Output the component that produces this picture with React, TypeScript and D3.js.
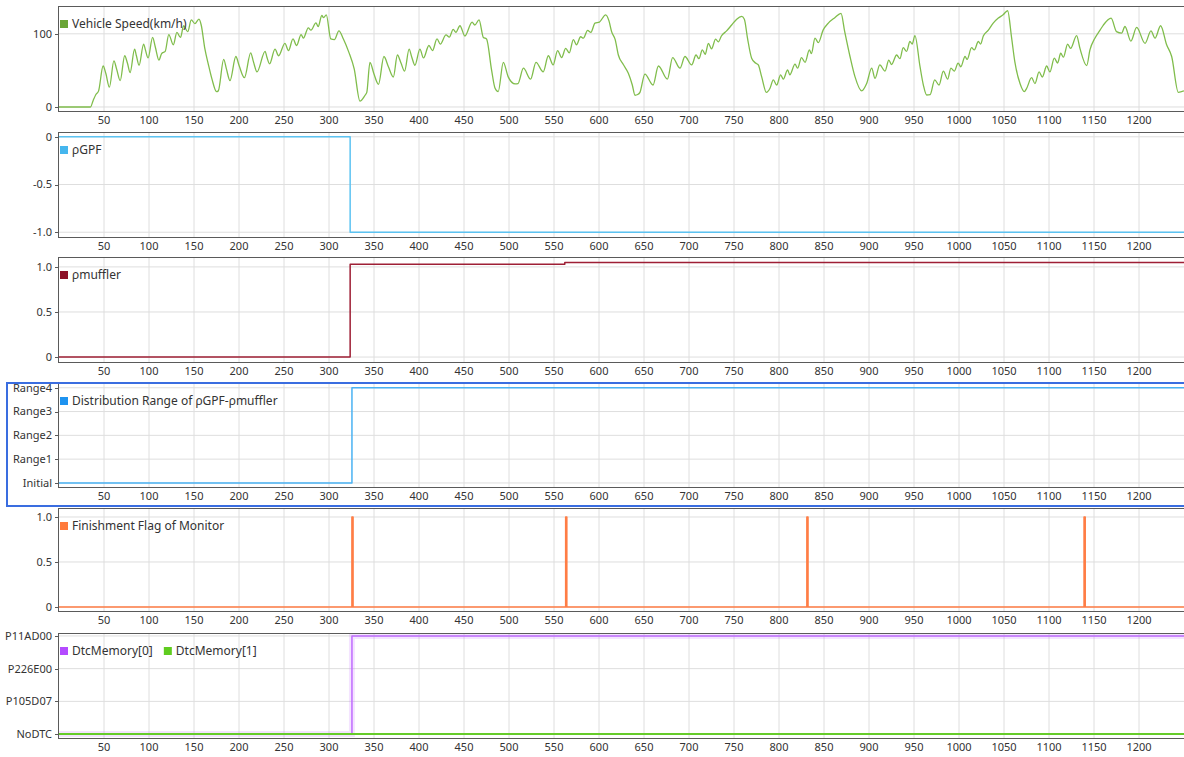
import { useEffect, useRef } from "react";
import * as d3 from "d3";

type Pt = [number, number];

// x axis (seconds)
const xTickValues = [50, 100, 150, 200, 250, 300, 350, 400, 450, 500, 550, 600, 650, 700, 750, 800, 850, 900, 950, 1000, 1050, 1100, 1150, 1200];

// y tick values / labels per panel
const speedTicks = [0, 100];
const gpfTicks = [0, -0.5, -1.0];
const mufflerTicks = [0, 0.5, 1.0];
const flagTicks = [0, 0.5, 1.0];
const rangeLabels = ["Initial", "Range1", "Range2", "Range3", "Range4"];
const dtcLabels = ["NoDTC", "P105D07", "P226E00", "P11AD00"];

// Vehicle speed (km/h)
const vehicleSpeed: Pt[] = [
    [0, 0], [35, 0], [38, 9], [41, 17], [44, 22], [49, 56], [52, 46], [56, 27], [61, 63], [64, 52], [68, 36],
    [73, 70], [76, 60], [79, 47], [84, 79], [86, 70], [89, 57], [94, 86], [96, 78], [99, 67], [104, 95],
    [107, 82], [111, 64], [114, 73], [118, 76], [122, 99], [127, 85], [131, 102], [135, 95], [138.5, 111],
    [143, 103], [147, 119], [151, 114], [155.5, 120], [158, 112], [162, 80], [166, 58], [170, 38], [175, 21],
    [177, 22], [183, 65], [186, 52], [190, 36], [196.5, 69], [200, 57], [206, 40], [213, 74], [216, 62],
    [220, 48], [229, 76], [231, 68], [234, 59], [240, 79], [244, 70], [251, 87], [255, 77], [260, 93],
    [264, 84], [269, 99], [271.5, 94], [277, 108], [280, 105], [285.5, 115], [288, 110], [292, 125],
    [294, 122], [297, 126], [302, 93], [306, 92], [311, 104], [316, 93], [322, 75], [328, 52], [334.4, 8],
    [340, 16], [342, 20], [345.5, 61], [350, 45], [355, 31], [361, 69], [366, 55], [371.5, 41], [376, 71],
    [380, 60], [384, 49], [389, 79], [392, 68], [395.5, 57], [401, 79], [405, 67], [411, 84], [415, 77],
    [420, 93], [423.7, 86], [430, 98.6], [433.7, 95.5], [438, 106], [441, 102], [445.5, 111], [451, 97],
    [459, 116], [462, 112], [466.7, 119], [471.5, 95], [475, 93], [480.7, 50], [484.4, 26], [488, 21],
    [493.7, 61], [499, 41.5], [506.7, 31.5], [510, 32], [516, 53], [524, 38], [530, 61], [538, 48],
    [543.7, 70], [549, 57.5], [554, 77], [558.5, 67.5], [563, 80], [567, 74], [571.5, 92], [575, 85],
    [579.6, 96], [582.6, 94], [587.4, 104.6], [591, 102], [595.5, 114.6], [600.4, 116], [607.4, 126],
    [611, 118], [614, 103], [618, 92], [621.5, 71], [627, 58], [632.6, 46], [637, 30], [640, 16], [643, 17],
    [645.5, 20], [651, 45], [660, 30], [666, 56], [676, 38], [681.8, 67.5], [690, 53], [695.5, 69],
    [703, 57.5], [707.8, 71], [711, 66], [714.8, 78], [718, 72], [721.5, 87], [725, 79.5], [729.6, 92.7],
    [732.6, 89], [736, 97], [741.8, 104], [747.4, 112], [753, 120], [758.5, 123.7], [761.5, 120],
    [765, 94], [769.6, 66.7], [774, 60], [777, 57.5], [780.7, 41.5], [786, 20], [790, 25.6], [793.7, 37],
    [797.4, 30], [801.8, 43.8], [804.8, 38], [809.6, 50.7], [812, 44], [817.8, 58.5], [820.7, 53],
    [825, 67.5], [829, 61], [833.7, 78], [836, 73], [840, 94], [843.7, 88], [849, 105], [854.8, 114.6],
    [862, 122], [868.9, 128], [873, 103], [878.9, 69], [884.4, 41.5], [891.9, 22], [897.4, 32], [903, 53],
    [906.7, 39], [912, 57.5], [917.8, 49], [922, 64], [925, 58], [930.7, 71], [934.4, 66], [938, 81],
    [941.8, 76], [945.5, 89.5], [948, 86], [951, 97.6], [956.7, 55], [960.4, 30], [964, 16.4], [968, 17],
    [973, 37], [977.8, 30], [982.6, 49], [987.4, 38], [991, 53], [994.8, 49], [999, 60], [1002, 55],
    [1006.7, 69], [1009, 65], [1014, 81], [1017, 78], [1021.5, 89.5], [1024, 86], [1027, 97],
    [1032.6, 105], [1038, 114.6], [1043.7, 121.5], [1049, 126], [1054, 131.5], [1058.5, 94], [1062, 62],
    [1067.8, 32], [1072.6, 21], [1075, 25], [1080.7, 40], [1084.4, 32], [1089, 48], [1092.6, 41],
    [1097.4, 56], [1101, 48], [1105.9, 66.7], [1109.6, 60], [1113, 73.5], [1116, 68], [1120.7, 86],
    [1124, 80], [1130.7, 97.6], [1134.4, 80], [1141.9, 56.6], [1145.5, 78], [1151, 94], [1156.7, 105],
    [1160.4, 112], [1169, 121.5], [1175, 103], [1180.7, 101], [1184.4, 110], [1191, 90], [1197.4, 108.7],
    [1206.7, 87], [1213.3, 104], [1217.8, 94], [1224, 111], [1230.7, 85], [1236.3, 69], [1243.7, 20],
    [1250, 22],
];

// step signals: [time, value] at each change
const rhoGPF: Pt[] = [[0, 0], [323.5, -1], [1250, -1]];
const rhoMuffler: Pt[] = [[0, 0], [323.5, 1.03], [562, 1.05], [1250, 1.05]];
const distRange: Pt[] = [[0, 0], [325.5, 4], [1250, 4]];
const finishTimes = [325.5, 563, 831, 1139];
const dtcMemory0: Pt[] = [[0, 0], [325.5, 3], [1250, 3]];
const dtcMemory1: Pt[] = [[0, 0], [1250, 0]];

const W = 1184;
const H = 757;
const FONT = "'Segoe UI', 'Noto Sans', 'Open Sans', sans-serif";

interface Series {
    name: string;
    color: string;
    swatch: string;
    data: Pt[];
    step: boolean;
    width: number;
    glow?: boolean;
}

interface Panel {
    top: number;
    bottom: number;
    domain: [number, number];
    ticks: number[];
    fmt: (v: number) => string;
    series: Series[];
}

export default function App() {
    const svgRef = useRef<SVGSVGElement>(null);

    useEffect(() => {
        if (!svgRef.current) return;
        const svg = d3.select(svgRef.current);
        svg.selectAll("*").remove();

        const left = 58;
        const x = d3.scaleLinear().domain([0, 1250]).range([59, W]);

        // finishment flag as narrow pulses
        const flagData: Pt[] = [[0, 0]];
        finishTimes.forEach((t) => {
            flagData.push([t, 1], [t + 1.2, 0]);
        });
        flagData.push([1250, 0]);

        const panels: Panel[] = [
            {
                top: 6, bottom: 111, domain: [-5.5, 138], ticks: speedTicks, fmt: (v) => String(v),
                series: [{ name: "Vehicle Speed(km/h)", color: "#80bd4c", swatch: "#6aa536", data: vehicleSpeed, step: false, width: 1.3 }],
            },
            {
                top: 132, bottom: 237, domain: [-1.05, 0.05], ticks: gpfTicks, fmt: (v) => (v === 0 ? "0" : v.toFixed(1)),
                series: [{ name: "ρGPF", color: "#5cc3f2", swatch: "#45b6ee", data: rhoGPF, step: true, width: 1.5 }],
            },
            {
                top: 257, bottom: 362, domain: [-0.055, 1.11], ticks: mufflerTicks, fmt: (v) => (v === 0 ? "0" : v.toFixed(1)),
                series: [{ name: "ρmuffler", color: "#9e1f35", swatch: "#8e1228", data: rhoMuffler, step: true, width: 1.5 }],
            },
            {
                top: 383, bottom: 487, domain: [-0.17, 4.2], ticks: [0, 1, 2, 3, 4], fmt: (v) => rangeLabels[v],
                series: [{ name: "Distribution Range of ρGPF-ρmuffler", color: "#4ab2f3", swatch: "#1e93f0", data: distRange, step: true, width: 1.5 }],
            },
            {
                top: 508, bottom: 611, domain: [-0.045, 1.1], ticks: flagTicks, fmt: (v) => (v === 0 ? "0" : v.toFixed(1)),
                series: [{ name: "Finishment Flag of Monitor", color: "#ff7d45", swatch: "#ff7a3c", data: flagData, step: true, width: 1.6 }],
            },
            {
                top: 633, bottom: 738, domain: [-0.12, 3.09], ticks: [0, 1, 2, 3], fmt: (v) => dtcLabels[v],
                series: [
                    { name: "DtcMemory[0]", color: "#c06cff", swatch: "#b44bff", data: dtcMemory0, step: true, width: 1.5, glow: true },
                    { name: "DtcMemory[1]", color: "#66cc2a", swatch: "#5fcc1f", data: dtcMemory1, step: true, width: 2 },
                ],
            },
        ];

        const defs = svg.append("defs");

        panels.forEach((p, pi) => {
            const y = d3.scaleLinear().domain(p.domain).range([p.bottom, p.top]);
            const g = svg.append("g");

            defs.append("clipPath")
                .attr("id", `clip${pi}`)
                .append("rect")
                .attr("x", left)
                .attr("y", p.top)
                .attr("width", W - left)
                .attr("height", p.bottom - p.top);

            // grid
            g.selectAll(".vgrid")
                .data(xTickValues)
                .enter()
                .append("line")
                .attr("x1", (d) => x(d))
                .attr("x2", (d) => x(d))
                .attr("y1", p.top)
                .attr("y2", p.bottom)
                .attr("stroke", "#dedede")
                .attr("stroke-width", 1);

            g.selectAll(".hgrid")
                .data(p.ticks)
                .enter()
                .append("line")
                .attr("x1", left)
                .attr("x2", W)
                .attr("y1", (d) => y(d))
                .attr("y2", (d) => y(d))
                .attr("stroke", "#dedede")
                .attr("stroke-width", 1);

            // series
            const lines = g.append("g").attr("clip-path", `url(#clip${pi})`);
            p.series.forEach((s) => {
                const gen = d3
                    .line<Pt>()
                    .x((d) => x(d[0]))
                    .y((d) => y(d[1]))
                    .curve(s.step ? d3.curveStepAfter : d3.curveMonotoneX);
                if (s.glow) {
                    lines.append("path")
                        .attr("d", gen(s.data))
                        .attr("fill", "none")
                        .attr("stroke", s.color)
                        .attr("stroke-opacity", 0.18)
                        .attr("stroke-width", 6);
                }
                lines.append("path")
                    .attr("d", gen(s.data))
                    .attr("fill", "none")
                    .attr("stroke", s.color)
                    .attr("stroke-width", s.width)
                    .attr("stroke-linejoin", "round");
            });

            // frame
            g.append("line")
                .attr("x1", left).attr("x2", W)
                .attr("y1", p.top + 0.5).attr("y2", p.top + 0.5)
                .attr("stroke", "#5a5a5a").attr("stroke-width", 1);
            g.append("line")
                .attr("x1", left).attr("x2", W)
                .attr("y1", p.bottom + 0.5).attr("y2", p.bottom + 0.5)
                .attr("stroke", "#5a5a5a").attr("stroke-width", 1);
            g.append("line")
                .attr("x1", left + 0.5).attr("x2", left + 0.5)
                .attr("y1", p.top).attr("y2", p.bottom + 1)
                .attr("stroke", "#5a5a5a").attr("stroke-width", 1);

            // y ticks
            g.selectAll(".ytick")
                .data(p.ticks)
                .enter()
                .append("line")
                .attr("x1", left - 3)
                .attr("x2", left)
                .attr("y1", (d) => Math.round(y(d)) + 0.5)
                .attr("y2", (d) => Math.round(y(d)) + 0.5)
                .attr("stroke", "#5a5a5a");

            g.selectAll(".ylabel")
                .data(p.ticks)
                .enter()
                .append("text")
                .attr("x", left - 6)
                .attr("y", (d) => y(d))
                .attr("dy", "0.35em")
                .attr("text-anchor", "end")
                .attr("font-family", FONT)
                .attr("font-size", "11px")
                .attr("fill", "#333")
                .text((d) => p.fmt(d));

            // x labels
            g.selectAll(".xlabel")
                .data(xTickValues)
                .enter()
                .append("text")
                .attr("x", (d) => x(d))
                .attr("y", p.bottom + 13)
                .attr("text-anchor", "middle")
                .attr("font-family", FONT)
                .attr("font-size", "11px")
                .attr("fill", "#333")
                .text((d) => String(d));

            // legend
            let lx = 60;
            p.series.forEach((s) => {
                g.append("rect")
                    .attr("x", lx)
                    .attr("y", p.top + 14)
                    .attr("width", 8)
                    .attr("height", 8)
                    .attr("fill", s.swatch);
                const t = g.append("text")
                    .attr("x", lx + 12)
                    .attr("y", p.top + 22)
                    .attr("font-family", FONT)
                    .attr("font-size", "12px")
                    .attr("fill", "#333")
                    .text(s.name);
                const node = t.node() as SVGTextElement;
                lx += 12 + node.getComputedTextLength() + 11;
            });
        });

        // selected panel outline
        svg.append("rect")
            .attr("x", 7)
            .attr("y", 383)
            .attr("width", W)
            .attr("height", 123)
            .attr("fill", "none")
            .attr("stroke", "#3a6de0")
            .attr("stroke-width", 2);
    }, []);

    return (
        <div style={{ position: "absolute", left: 0, top: 0, background: "#fff" }}>
            <svg ref={svgRef} width={W} height={H} style={{ display: "block" }}></svg>
        </div>
    );
}
